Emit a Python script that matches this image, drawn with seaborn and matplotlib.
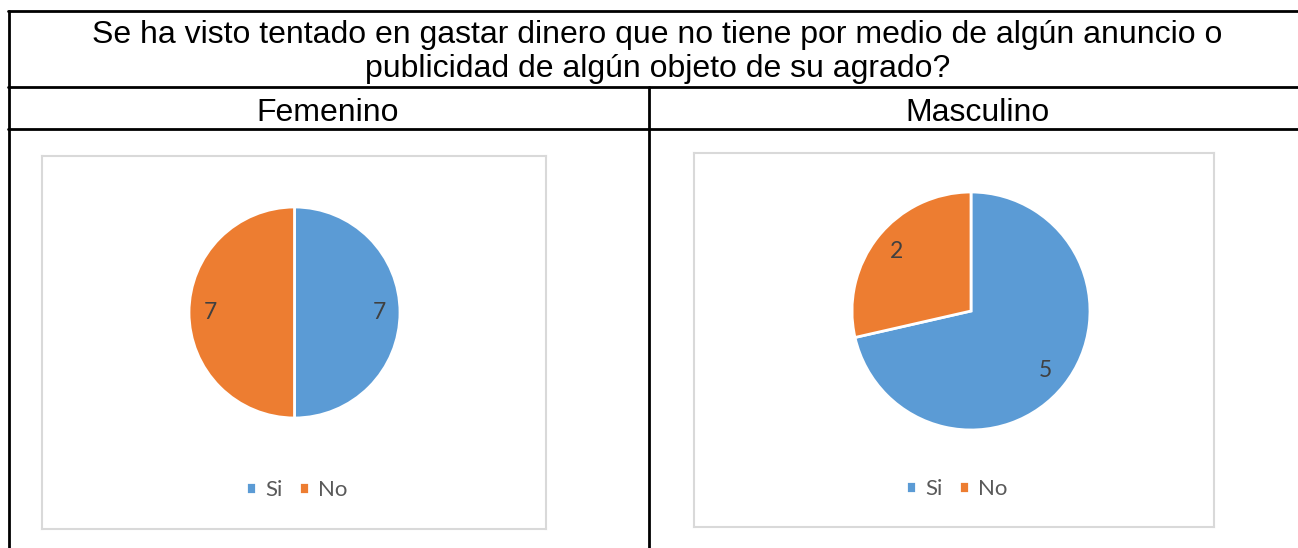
import matplotlib
matplotlib.use("Agg")
import matplotlib.pyplot as plt
from matplotlib.lines import Line2D
import seaborn as sns

# data
title_lines = ["Se ha visto tentado en gastar dinero que no tiene por medio de algún anuncio o",
               "publicidad de algún objeto de su agrado?"]
groups = ["Femenino", "Masculino"]
answers = ["Si", "No"]
femenino = [7, 7]
masculino = [5, 2]

sns.set_theme(style="white")
plt.rcParams['font.family'] = ['Lato', 'DejaVu Sans']
colors = sns.color_palette(["#5B9BD5", "#ED7D31"])

W, H = 1298, 548
fig = plt.figure(figsize=(W / 100, H / 100), dpi=100)
fig.patch.set_facecolor("white")


def fx(x):
    return x / W


def fy(y):
    return 1 - y / H


def hline(x0, x1, y, **kw):
    fig.add_artist(Line2D([fx(x0), fx(x1)], [fy(y), fy(y)], color="black", lw=2, **kw))


def vline(x, y0, y1, **kw):
    fig.add_artist(Line2D([fx(x), fx(x)], [fy(y0), fy(y1)], color="black", lw=2, **kw))


# table frame
hline(8, W, 11)
hline(8, W, 87)
hline(8, W, 129)
vline(9, 11, H)
vline(649, 87, H)

arial = ['Liberation Sans', 'DejaVu Sans']
fs_title = 23
fig.text(fx(657), fy(43), title_lines[0], ha="center", va="baseline", fontsize=fs_title, family=arial, color="black")
fig.text(fx(658), fy(77), title_lines[1], ha="center", va="baseline", fontsize=fs_title, family=arial, color="black")
fig.text(fx(328), fy(121), groups[0], ha="center", va="baseline", fontsize=fs_title, family=arial, color="black")
fig.text(fx(978), fy(121), groups[1], ha="center", va="baseline", fontsize=fs_title, family=arial, color="black")

# chart boxes: (left, top, right, bottom), pie centre, radius, legend centre
charts = [
    (femenino, (42, 156, 546, 529), (294.5, 312.5), 105.5, (297, 490)),
    (masculino, (694, 153, 1214, 527), (971, 311), 119, (957, 489)),
]

for values, box, centre, r, leg in charts:
    x0, y0, x1, y1 = box
    bax = fig.add_axes([fx(x0), fy(y1), (x1 - x0) / W, (y1 - y0) / H])
    bax.set_xticks([])
    bax.set_yticks([])
    bax.set_facecolor("white")
    for s in bax.spines.values():
        s.set_color("#D9D9D9")
        s.set_linewidth(1.5)

    cx, cy = centre
    pax = fig.add_axes([fx(cx - r), fy(cy + r), 2 * r / W, 2 * r / H])
    total = sum(values)
    wedges, _, autotexts = pax.pie(
        values, colors=colors, startangle=90, counterclock=False,
        autopct=lambda p, t=total: f"{round(p * t / 100)}", pctdistance=0.8,
        wedgeprops=dict(edgecolor="white", linewidth=2),
        textprops=dict(color="#404040", fontsize=16.5),
    )
    pax.set_xlim(-1, 1)
    pax.set_ylim(-1, 1)
    pax.axis("off")

    lx, ly = leg
    bax.legend(wedges, answers, loc="center",
               bbox_to_anchor=(fx(lx), fy(ly)), bbox_transform=fig.transFigure,
               ncol=2, frameon=False, fontsize=16, labelcolor="#595959",
               handlelength=0.45, handleheight=0.45, handletextpad=0.4, columnspacing=0.75)

fig.savefig("out.png", dpi=100)
